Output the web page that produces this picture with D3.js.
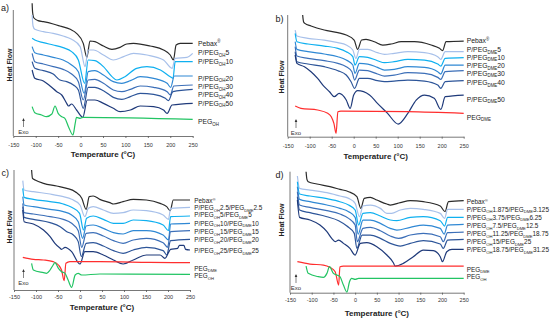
<!DOCTYPE html>
<html>
<head>
<meta charset="utf-8">
<script src="https://cdn.jsdelivr.net/npm/d3@7"></script>
<style>
body{margin:0;background:#fff}
svg{display:block}
text{font-family:"Liberation Sans",Arial,sans-serif}
</style>
</head>
<body>
<svg id="svg" width="550" height="321"></svg>
<script>
// x axis ticks (°C)
const temps=[-150,-100,-50,0,50,100,150,200,250];

// curves: [temperature °C, heat flow a.u.] (exo up)
// ---- a) PEG-OH blends
const pebaxA=[[-108,398],[-107,372],[-104,354],[-95,346],[-83,343],[-61,336],[-46,330],[-23,320],[-9,308],[6,278],[14,236],[21,285],[32,283],[51,270],[70,260],[88,266],[103,276],[118,278],[155,270],[185,258],[200,243],[207,228],[213,273],[222,278],[250,278]];
const ohA5=[[-108,363],[-106,330],[-102,320],[-83,313],[-61,308],[-39,300],[-20,290],[-1,268],[10,208],[17,258],[29,258],[51,243],[73,228],[96,238],[118,248],[148,243],[185,228],[204,203],[211,233],[237,236],[250,248]];
const ohA10=[[-108,293],[-102,288],[-83,280],[-61,273],[-39,265],[-20,253],[-5,228],[9,158],[17,228],[32,226],[51,208],[70,178],[81,168],[99,178],[125,203],[148,208],[178,198],[200,178],[206,173],[211,223],[250,223]];
const ohA20=[[-108,268],[-102,250],[-83,243],[-61,236],[-39,228],[-20,213],[-5,193],[8,128],[17,193],[32,196],[51,183],[73,163],[92,158],[111,166],[133,178],[163,173],[193,158],[201,146],[209,180],[250,180]];
const ohA30=[[-108,248],[-102,223],[-83,216],[-61,208],[-39,200],[-20,186],[-5,163],[6,108],[17,168],[32,170],[51,158],[73,138],[92,133],[111,140],[133,150],[163,146],[193,133],[200,123],[208,150],[250,153]];
const ohA40=[[-108,223],[-102,203],[-83,196],[-61,186],[-46,168],[-31,163],[-16,153],[-5,138],[6,83],[17,146],[32,146],[51,136],[73,116],[92,110],[111,118],[133,128],[163,125],[189,113],[196,106],[206,133],[250,140]];
const ohA50=[[-108,198],[-102,173],[-83,165],[-68,150],[-53,133],[-42,123],[-31,98],[-27,90],[-20,96],[-9,78],[5,56],[15,108],[32,108],[51,98],[73,83],[88,73],[111,78],[133,90],[163,88],[185,78],[193,68],[204,93],[250,98]];
const pegOhA=[[-108,88],[-102,70],[-87,63],[-76,58],[-64,66],[-57,90],[-50,68],[-42,58],[-35,53],[-27,28],[-17,3],[-12,38],[-9,56],[-1,53],[6,56],[250,50]];

// ---- b) PEG-DME blends
const pebaxB=[[-116,365],[-114,345],[-111,340],[-97,332],[-67,320],[-36,312],[-17,305],[1,290],[9,262],[18,290],[28,292],[47,285],[66,275],[85,278],[108,285],[138,285],[176,275],[195,265],[202,258],[210,285],[250,287]];
const dmeB5=[[-133,320],[-129,302],[-104,295],[-67,290],[-36,282],[-17,275],[-2,260],[5,235],[13,262],[32,262],[54,252],[70,247],[92,250],[123,255],[161,252],[191,240],[198,232],[208,255],[250,255]];
const dmeB10=[[-133,310],[-129,285],[-104,278],[-67,272],[-36,265],[-17,255],[-2,240],[3,215],[13,240],[32,238],[54,228],[70,222],[92,225],[123,232],[161,230],[191,218],[198,212],[208,235],[250,237]];
const dmeB20=[[-133,285],[-129,262],[-104,255],[-67,248],[-36,240],[-17,230],[-2,215],[3,190],[13,220],[32,218],[54,208],[70,200],[92,202],[123,210],[161,208],[191,195],[198,188],[208,215],[250,215]];
const dmeB30=[[-133,270],[-129,242],[-104,235],[-67,228],[-36,220],[-17,210],[-4,195],[2,170],[13,200],[32,198],[54,188],[70,182],[92,185],[123,192],[161,190],[191,178],[198,172],[208,195],[250,198]];
const dmeB40=[[-133,255],[-129,225],[-104,218],[-67,210],[-36,198],[-17,185],[-6,165],[2,145],[13,175],[32,175],[54,168],[70,165],[92,167],[123,170],[161,167],[191,155],[198,145],[208,165],[250,168]];
const dmeB50=[[-133,245],[-129,220],[-112,210],[-97,195],[-82,175],[-67,150],[-55,135],[-44,120],[-33,130],[-17,110],[-8,85],[0,125],[9,138],[36,125],[54,100],[77,70],[101,38],[123,70],[142,110],[161,125],[183,115],[198,82],[208,120],[250,125]];
const pegDmeB=[[-133,92],[-120,85],[-82,80],[-59,70],[-51,60],[-45,40],[-40,10],[-36,75],[-29,77],[123,75],[250,70]];

// ---- c) equal PEG-OH / PEG-DME blends
const pebaxC=[[-110,360],[-108,335],[-102,330],[-83,320],[-53,312],[-30,305],[-11,295],[4,275],[14,242],[21,280],[30,282],[45,272],[68,262],[76,258],[98,265],[121,272],[151,270],[182,260],[197,250],[205,238],[212,270],[250,270]];
const mixC25=[[-130,328],[-127,300],[-106,295],[-68,288],[-38,280],[-19,272],[0,255],[11,220],[19,245],[30,250],[53,240],[76,230],[98,232],[121,240],[151,238],[189,225],[201,212],[206,245],[250,248]];
const mixC5=[[-130,305],[-127,278],[-106,272],[-68,265],[-38,258],[-19,248],[-1,230],[8,180],[15,215],[30,222],[53,212],[76,200],[98,200],[121,210],[151,208],[189,195],[201,178],[206,220],[250,222]];
const mixC10=[[-130,280],[-127,255],[-106,250],[-68,242],[-38,235],[-19,225],[-4,205],[6,155],[14,192],[30,195],[53,185],[76,172],[98,168],[121,178],[151,178],[189,165],[201,150],[206,198],[250,200]];
const mixC15=[[-130,260],[-127,232],[-106,228],[-68,220],[-38,212],[-19,200],[-4,178],[4,128],[14,170],[30,172],[53,162],[76,148],[98,140],[121,150],[151,155],[189,142],[199,128],[206,175],[250,178]];
const mixC20=[[-130,250],[-127,218],[-106,212],[-68,202],[-45,190],[-30,175],[-15,165],[-4,145],[3,100],[14,140],[30,142],[53,132],[76,118],[98,110],[121,120],[151,128],[189,118],[197,105],[206,148],[250,152]];
const mixC25b=[[-130,240],[-127,205],[-106,198],[-83,180],[-68,160],[-57,140],[-45,125],[-42,122],[-34,128],[-19,115],[0,78],[11,115],[30,115],[53,105],[76,90],[98,78],[121,90],[151,105],[182,105],[193,95],[206,122],[222,125],[226,134],[236,134],[240,122],[250,120]];
const pegDmeC=[[-130,98],[-106,92],[-83,90],[-61,85],[-49,75],[-42,60],[-36,28],[-32,80],[-23,85],[45,85],[159,83],[250,82]];
const pegOhC=[[-110,80],[-106,60],[-83,52],[-76,50],[-68,60],[-61,75],[-57,82],[-49,65],[-42,55],[-34,50],[-27,30],[-19,8],[-11,45],[-4,50],[4,45],[45,48],[250,47]];

// ---- d) 3:5 PEG-OH / PEG-DME blends
const pebaxD=[[-113,363],[-111,340],[-108,333],[-88,326],[-58,318],[-35,310],[-15,303],[4,288],[13,253],[21,283],[35,286],[50,278],[73,266],[81,263],[104,270],[127,276],[157,273],[196,260],[207,243],[215,273],[250,276]];
const mixD1=[[-133,350],[-128,313],[-104,308],[-65,300],[-35,290],[-15,283],[0,268],[10,228],[18,260],[35,263],[58,253],[73,238],[84,238],[104,248],[127,253],[157,250],[196,238],[206,223],[213,250],[250,250]];
const mixD2=[[-133,333],[-128,296],[-104,290],[-65,282],[-35,273],[-15,263],[0,248],[8,203],[18,238],[35,240],[58,230],[81,218],[96,216],[127,226],[157,228],[196,216],[206,200],[213,226],[250,226]];
const mixD3=[[-133,318],[-128,280],[-104,273],[-65,263],[-35,253],[-15,243],[0,226],[7,176],[18,218],[35,218],[58,208],[81,193],[96,188],[127,196],[157,203],[196,193],[205,176],[213,203],[250,205]];
const mixD4=[[-133,303],[-128,263],[-104,256],[-65,246],[-35,236],[-15,223],[0,203],[5,153],[18,193],[35,196],[58,186],[81,170],[100,163],[127,173],[157,178],[196,168],[203,153],[213,180],[250,182]];
const mixD5=[[-133,288],[-128,248],[-104,240],[-65,228],[-38,216],[-19,200],[-2,178],[4,133],[16,173],[35,173],[58,163],[81,148],[104,140],[127,148],[157,156],[196,146],[203,133],[213,158],[250,160]];
const mixD6=[[-133,278],[-128,226],[-104,218],[-81,203],[-65,183],[-54,163],[-46,153],[-38,158],[-27,148],[-12,133],[0,113],[12,148],[27,150],[50,138],[73,113],[88,90],[92,80],[111,88],[134,108],[157,128],[180,126],[196,108],[201,93],[211,123],[223,130],[250,130]];
const pegDmeD=[[-133,93],[-104,86],[-73,83],[-58,76],[-46,63],[-38,23],[-35,78],[-27,80],[250,80]];
const pegOhD=[[-113,80],[-108,58],[-85,48],[-73,46],[-65,58],[-59,78],[-50,58],[-42,53],[-35,48],[-27,23],[-19,2],[-13,33],[-8,43],[0,40],[8,43],[250,43]];

// legend names (_{} subscript, ^{} superscript)
const namesA=["Pebax^{®}","P/PEG_{OH}5","P/PEG_{OH}10","P/PEG_{OH}20","P/PEG_{OH}30","P/PEG_{OH}40","P/PEG_{OH}50","PEG_{OH}"];
const namesB=["Pebax^{®}","P/PEG_{DME}5","P/PEG_{DME}10","P/PEG_{DME}20","P/PEG_{DME}30","P/PEG_{DME}40","P/PEG_{DME}50","PEG_{DME}"];
const namesC=["Pebax^{®}","P/PEG_{OH}2.5/PEG_{DME}2.5","P/PEG_{OH}5/PEG_{DME}5","P/PEG_{OH}10/PEG_{DME}10","P/PEG_{OH}15/PEG_{DME}15","P/PEG_{OH}20/PEG_{DME}20","P/PEG_{OH}25/PEG_{DME}25","PEG_{DME}","PEG_{OH}"];
const namesD=["Pebax^{®}","P/PEG_{OH}1.875/PEG_{DME}3.125","P/PEG_{OH}3.75/PEG_{DME}6.25","P/PEG_{OH}7.5/PEG_{DME}12.5","P/PEG_{OH}11.25/PEG_{DME}18.75","P/PEG_{OH}15/PEG_{DME}25","P/PEG_{OH}18.75/PEG_{DME}31.25","PEG_{DME}","PEG_{OH}"];

const cPebax="#2b2b2b", cOH="#22c463", cDME="#ff2e2e";
const blues=["#a7c0ea","#0fb0f0","#2f88d4","#3c6fb8","#2d5599","#1f3a7a"];

const svg=d3.select("#svg");

const panels=[
  {tag:"a)",tx:1,ty:11,x0:13.3,x1:192.7,yAxis:136,hTop:378,pad:5.5,fs:6.8,lx:198,
   labelY:[43.3,52.7,61.7,78.3,86.7,95,103.3,121.7],names:namesA,
   data:[pebaxA,ohA5,ohA10,ohA20,ohA30,ohA40,ohA50,pegOhA],colors:[cPebax,...blues,cOH],
   hfx:10,hfy:65,ty2:157,exo:[23.5,132]},
  {tag:"b)",tx:275.5,ty:22,x0:287.7,x1:463.7,yAxis:136.7,hTop:365,pad:5.8,fs:6.8,lx:466.7,
   labelY:[40.7,50,57.3,65.7,73.3,82.7,99.3,117.3],names:namesB,
   data:[pebaxB,dmeB5,dmeB10,dmeB20,dmeB30,dmeB40,dmeB50,pegDmeB],colors:[cPebax,...blues,cDME],
   hfx:282,hfy:77,ty2:159,exo:[296,133]},
  {tag:"c)",tx:1.5,ty:176,x0:14,x1:190,yAxis:290,hTop:360,pad:3.3,fs:6.4,lx:194.3,
   labelY:[200.7,207.7,215,223.3,231.7,240,250.7,268.3,276],names:namesC,
   data:[pebaxC,mixC25,mixC5,mixC10,mixC15,mixC20,mixC25b,pegDmeC,pegOhC],colors:[cPebax,...blues,cDME,cOH],
   hfx:10,hfy:227,ty2:310,exo:[23.5,283]},
  {tag:"d)",tx:275.5,ty:178,x0:290,x1:463.7,yAxis:292.7,hTop:363,pad:3.3,fs:6.4,lx:466.7,
   labelY:[201.7,209.3,217.3,226,234,241.7,250,269.3,276.7],names:namesD,
   data:[pebaxD,mixD1,mixD2,mixD3,mixD4,mixD5,mixD6,pegDmeD,pegOhD],colors:[cPebax,...blues,cDME,cOH],
   hfx:282,hfy:220,ty2:315.5,exo:[296,288]}
];

const addLabel=function(g,x,y,str,fs)
{
  let t=g.append("text").attr("x",x).attr("y",y+0.35*fs).style("font-size",fs+"px").attr("fill","#222");
  let re=/([_^])\{([^}]*)\}|([^_^]+)/g;
  let m;
  let shift=0;
  while((m=re.exec(str))!==null)
  {
    let d=0, txt=m[3], sz=fs;
    if(m[1])
    {
      d=m[1]=="_"?1.6:-2.4;
      txt=m[2];
      sz=fs*0.65;
    }
    let s=t.append("tspan").style("font-size",sz+"px").text(txt);
    if(d-shift!=0) s.attr("dy",d-shift);
    shift=d;
  }
}

panels.forEach(function(p)
{
  const g=svg.append("g");
  const x=d3.scaleLinear().domain([-150,250]).range([p.x0,p.x1]);
  const y=d3.scaleLinear().domain([0,p.hTop]).range([p.yAxis,p.yAxis-p.hTop/3]);
  const line=d3.line().x(d=>x(d[0])).y(d=>y(d[1])).curve(d3.curveMonotoneX);

  // y axis (no ticks)
  g.append("line").attr("x1",p.x0).attr("x2",p.x0).attr("y1",p.yAxis).attr("y2",y(p.hTop)).attr("stroke","#555").attr("stroke-width",0.8);
  const ax=g.append("g").attr("transform","translate(0,"+p.yAxis+")")
    .call(d3.axisBottom(x).tickValues(temps).tickSize(2).tickSizeOuter(0).tickPadding(p.pad).tickFormat(d=>String(d)));
  ax.select(".domain").attr("stroke","#555").attr("stroke-width",0.8);
  ax.selectAll(".tick line").attr("stroke","#555").attr("stroke-width",0.8);
  ax.selectAll("text").style("font-size","5.5px").style("font-family","'Liberation Sans',Arial,sans-serif").attr("fill","#333");

  // curves
  p.data.forEach(function(d,i)
  {
    g.append("path").attr("d",line(d)).attr("fill","none").attr("stroke",p.colors[i]).attr("stroke-width",1.2).attr("stroke-linejoin","round");
  });
  p.names.forEach(function(n,i){ addLabel(g,p.lx,p.labelY[i],n,p.fs); });

  // titles
  g.append("text").attr("x",p.tx).attr("y",p.ty).style("font-size","9px").attr("fill","#222").text(p.tag);
  g.append("text").attr("x",(p.x0+p.x1)/2).attr("y",p.ty2).attr("text-anchor","middle").style("font-size","8px").style("font-weight","bold").attr("fill","#222").text("Temperature (°C)");
  g.append("text").attr("transform","translate("+p.hfx+","+p.hfy+") rotate(-90)").attr("text-anchor","middle").attr("dy","0.35em").style("font-size","7px").style("font-weight","bold").attr("fill","#222").text("Heat Flow");

  // exo arrow
  let ex=p.exo[0], ey=p.exo[1];
  g.append("line").attr("x1",ex).attr("x2",ex).attr("y1",ey-5).attr("y2",ey-13).attr("stroke","#333").attr("stroke-width",0.6);
  g.append("path").attr("d","M"+(ex-1.3)+","+(ey-11)+"L"+ex+","+(ey-14)+"L"+(ex+1.3)+","+(ey-11)+"Z").attr("fill","#333");
  g.append("text").attr("x",ex).attr("y",ey+2).attr("text-anchor","middle").style("font-size","6px").attr("fill","#333").text("Exo");
});
</script>
</body>
</html>
